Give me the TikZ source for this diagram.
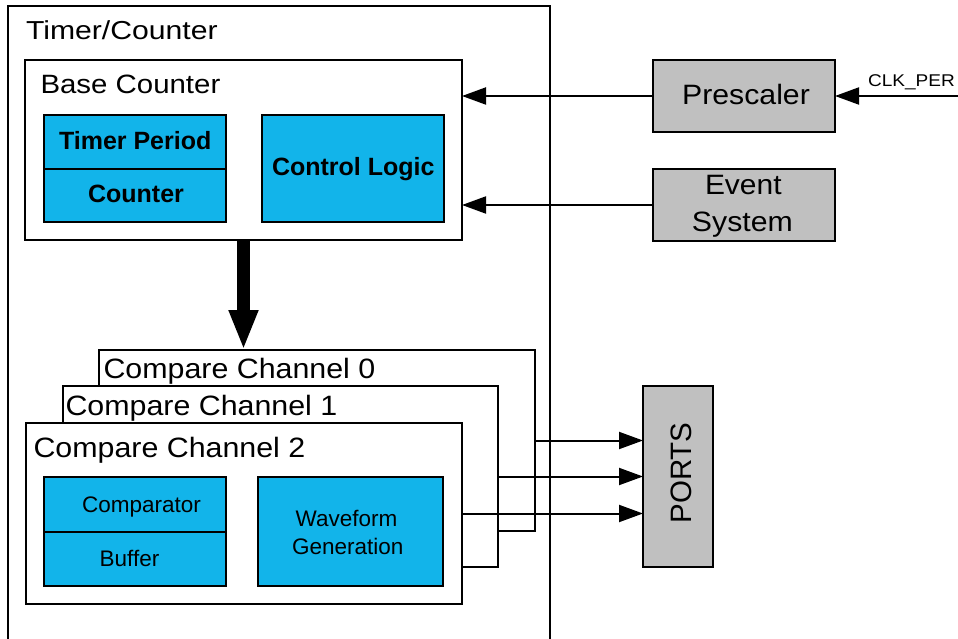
\documentclass[tikz,border=0pt]{standalone}
\usepackage{fontspec}
\usepackage{graphicx}
\setmainfont{Liberation Sans}
\usetikzlibrary{arrows.meta}
\definecolor{tblue}{HTML}{12B4EA}
\definecolor{tgray}{HTML}{C0C0C0}
\newcommand\hs[2][1.08]{\scalebox{#1}[1]{#2}}
\newcommand\bigfont{\fontsize{28}{34}\selectfont}
\begin{document}
\begin{tikzpicture}[x=1pt,y=-1pt,
  box/.style={draw=black, line width=2pt, fill=white, rectangle, inner sep=0pt, outer sep=0pt, anchor=north west},
  bbox/.style={box, fill=tblue},
  gbox/.style={box, fill=tgray},
  lab/.style={inner sep=0pt, outer sep=0pt, text=black},
  bigtxt/.style={lab, font=\bigfont},
  boldtxt/.style={lab, font=\fontsize{25}{30}\selectfont\bfseries},
  smalltxt/.style={lab, font=\fontsize{22.5}{27}\selectfont},
  arr/.style={line width=2pt, -{Triangle[length=24pt,width=17pt]}},
  fat/.style={line width=13pt, -{Triangle[length=40pt,width=27pt]}}
]
\useasboundingbox (0,0) rectangle (958,639);

% Timer/Counter outer box
\node[box, fill=none, minimum width=542, minimum height=660] (tc) at (8,6) {};
\node[bigtxt, font=\fontsize{26}{32}\selectfont, anchor=base west] (tclab) at (26,39.5) {\hs[1.16]{Timer/Counter}};

% Base counter
\node[box, minimum width=437, minimum height=180] (base) at (25,60) {};
\node[bigtxt, font=\fontsize{26.5}{32}\selectfont, anchor=base west] (baselab) at (40.5,94) {\hs[1.11]{Base Counter}};
\node[bbox, minimum width=182, minimum height=54] (tp) at (44,115) {};
\node[bbox, minimum width=182, minimum height=53] (cnt) at (44,169) {};
\node[bbox, minimum width=182, minimum height=107] (cl) at (262,115) {};
\node[boldtxt, anchor=base] (tplab) at (135.2,150) {Timer Period};
\node[boldtxt, anchor=base] (cntlab) at (136,203) {Counter};
\node[boldtxt, anchor=base] (cllab) at (353.3,176) {Control Logic};

% Compare channels
\node[box, minimum width=436, minimum height=181] (cc0) at (99,350) {};
\node[bigtxt, anchor=base west] (cc0lab) at (103.5,378) {\hs[1.085]{Compare Channel 0}};
\node[box, minimum width=435, minimum height=181] (cc1) at (63,386) {};
\node[bigtxt, anchor=base west] (cc1lab) at (65.5,415) {\hs[1.085]{Compare Channel 1}};
\node[box, minimum width=436, minimum height=181] (cc2) at (26,423) {};
\node[bigtxt, anchor=base west] (cc2lab) at (33.5,457.5) {\hs[1.085]{Compare Channel 2}};
\node[bbox, minimum width=182, minimum height=55] (cmp) at (44,477) {};
\node[bbox, minimum width=182, minimum height=54] (buf) at (44,532) {};
\node[bbox, minimum width=185, minimum height=109] (wf) at (258,477) {};
\node[smalltxt, anchor=base] (cmplab) at (141.5,512.5) {Comparator};
\node[smalltxt, anchor=base] (buflab) at (129.5,566) {Buffer};
\node[smalltxt, anchor=base] (wflab1) at (346.5,526) {Waveform};
\node[smalltxt, anchor=base] (wflab2) at (347.7,554) {Generation};

% Prescaler, Event System, PORTS
\node[gbox, minimum width=182, minimum height=72] (pre) at (653,60) {};
\node[bigtxt, anchor=base] (prelab) at (746,105) {\hs{Prescaler}};
\node[gbox, minimum width=182, minimum height=72] (ev) at (653,169) {};
\node[bigtxt, anchor=base] (evlab1) at (743.3,195) {\hs[1.07]{Event}};
\node[bigtxt, anchor=base] (evlab2) at (742.4,232) {\hs{System}};
\node[gbox, minimum width=70, minimum height=181] (ports) at (643,386) {};
\node[lab, font=\fontsize{29.5}{34}\selectfont, rotate=90, anchor=center] (portslab) at (681,473) {PORTS};

% connectors
\coordinate (clk) at (962,96);
\draw[arr] (clk) -- (pre.east);
\node[lab, font=\fontsize{17}{20}\selectfont, anchor=base] (clklab) at (911.5,87) {\hs[1.12]{CLK\_PER}};
\draw[arr] (pre.west) -- (pre.west -| base.east);
\draw[arr] (ev.west) -- (ev.west -| base.east);
\draw[fat] (base.south) -- (base.south |- cc0.north);
\draw[arr] (cc0.east) -- (cc0.east -| ports.west);
\draw[arr] (cc1.east) -- (cc1.east -| ports.west);
\draw[arr] (cc2.east) -- (cc2.east -| ports.west);
\end{tikzpicture}
\end{document}
